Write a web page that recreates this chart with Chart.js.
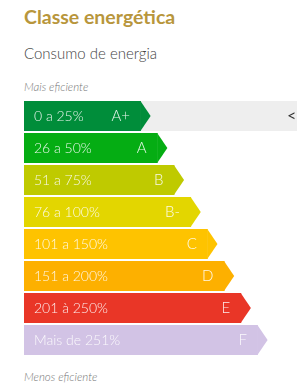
<!DOCTYPE html>
<html>
<head>
<meta charset="utf-8">
<script src="https://cdn.jsdelivr.net/npm/chart.js@4"></script>
<style>
  html,body{margin:0;padding:0;background:#fff;width:297px;height:392px;overflow:hidden;font-family:Lato,"Open Sans",sans-serif;}
  .t{position:absolute;left:24px;white-space:nowrap;}
  #title{top:4px;font-size:19.5px;font-weight:700;color:#b8963c;line-height:26px;}
  #sub{top:43px;font-size:15px;color:#444;line-height:20px;font-weight:300;}
  #top{top:80px;font-size:11.5px;font-style:italic;color:#777;line-height:14px;font-weight:300;}
  #bot{top:370px;font-size:11.5px;font-style:italic;color:#777;line-height:14px;font-weight:300;}
  #wrap{position:absolute;left:0;top:100px;width:297px;height:256px;}
</style>
</head>
<body>
<div class="t" id="title">Classe energética</div>
<div class="t" id="sub">Consumo de energia</div>
<div class="t" id="top">Mais eficiente</div>
<div class="t" id="bot">Menos eficiente</div>
<div id="wrap"><canvas id="c" width="297" height="256"></canvas></div>
<script>
const ranges = ["0 a 25%","26 a 50%","51 a 75%","76 a 100%","101 a 150%","151 a 200%","201 à 250%","Mais de 251%"];
const grades = ["A+","A","B","B-","C","D","E","F"];
const lengths = [7,8,9,10,11,12,13,14];
const highlight = [10,0,0,0,0,0,0,0];
const colors = ["#008d3a","#05ad13","#bfca00","#e3d600","#fec300","#fdb000","#e93627","#d2c3e5"];

const arrowPlugin = {
  id:'arrows',
  afterDatasetsDraw(chart){
    const ctx = chart.ctx;
    const meta = chart.getDatasetMeta(0);
    meta.data.forEach((bar,i)=>{
      const h = bar.height, x = bar.x, y = bar.y;
      ctx.save();
      ctx.fillStyle = colors[i];
      ctx.beginPath();
      ctx.moveTo(x-0.5, y-h/2);
      ctx.lineTo(x+9.7, y);
      ctx.lineTo(x-0.5, y+h/2);
      ctx.closePath();
      ctx.fill();
      ctx.fillStyle = 'rgba(255,255,255,0.9)';
      ctx.font = '300 14px Lato';
      ctx.textBaseline = 'middle';
      ctx.textAlign = 'left';
      ctx.fillText(ranges[i], bar.base + 10, y+0.5);
      ctx.font = '300 15px Lato';
      ctx.textAlign = 'right';
      ctx.fillText(grades[i], x - 11, y+0.5);
      ctx.restore();
    });
    const hm = chart.getDatasetMeta(1);
    hm.data.forEach((bar,i)=>{
      if(!highlight[i]) return;
      ctx.save();
      ctx.fillStyle = '#333';
      ctx.font = '400 16px Lato';
      ctx.textAlign = 'left';
      ctx.textBaseline = 'middle';
      ctx.fillText('<', chart.chartArea.right - 10, bar.y);
      ctx.restore();
    });
  }
};

new Chart(document.getElementById('c'), {
  type:'bar',
  data:{
    labels: grades,
    datasets:[
      {data: lengths, backgroundColor: colors, barPercentage:0.9375, categoryPercentage:1, borderWidth:0},
      {data: highlight, backgroundColor:'#eeeeee', barPercentage:0.9375, categoryPercentage:1, borderWidth:0}
    ]
  },
  options:{
    indexAxis:'y',
    responsive:false,
    animation:false,
    layout:{padding:{left:24,right:0,top:0,bottom:0}},
    scales:{
      x:{display:false, stacked:true, min:0, max:16.34},
      y:{display:false, stacked:true}
    },
    plugins:{legend:{display:false}, tooltip:{enabled:false}}
  },
  plugins:[arrowPlugin]
});
</script>
</body>
</html>
